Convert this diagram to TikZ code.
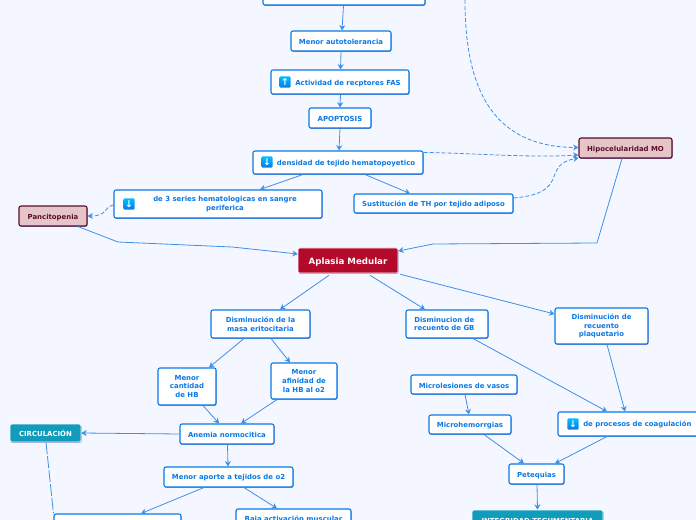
\documentclass[tikz,border=0pt]{standalone}
\usepackage{fontspec}
\setmainfont{DejaVu Sans}
\usetikzlibrary{arrows.meta,shadows}
\definecolor{bgc}{HTML}{F4F7FF}
\definecolor{blu}{HTML}{0A78E6}
\definecolor{lnk}{HTML}{3E8FEA}
\definecolor{darkr}{HTML}{5A0F22}
\definecolor{pinkf}{HTML}{E6C5CA}
\definecolor{redf}{HTML}{B30A2B}
\definecolor{teal}{HTML}{129CBC}
\def\p{0.75pt}
\tikzset{
 conn/.style={draw=lnk,line width=0.6pt,-{Stealth[length=4pt,width=4.5pt]}},
 dconn/.style={conn,dash pattern=on 3pt off 1.5pt},
 base/.style={rectangle,rounded corners=1.5pt,align=center,inner sep=0pt,font=\bfseries\fontsize{5.2}{6.5}\selectfont,execute at begin node={\rule{0pt}{5.6pt}},drop shadow={shadow xshift=0.4pt,shadow yshift=-0.7pt,opacity=.45,fill=blue!60!black}},
 wbox/.style={base,draw=blu,line width=0.8pt,fill=white,text=blu},
 pbox/.style={base,draw=darkr,line width=0.8pt,fill=pinkf,text=darkr},
 rbox/.style={base,draw=white,line width=0.4pt,fill=redf,text=white,font=\bfseries\fontsize{6.5}{8}\selectfont,execute at begin node={\rule{0pt}{7pt}}},
 tbox/.style={base,draw=white,line width=0.5pt,fill=teal,text=white},
 icn/.style={rectangle,rounded corners=1pt,top color=cyan!75!blue,bottom color=blu,text=white,inner sep=0pt,minimum width=8.6pt,minimum height=8.6pt,font=\bfseries\fontsize{7}{7}\selectfont},
 ptext/.style={text=blu,font=\bfseries\fontsize{5.2}{6.5}\selectfont,anchor=west,inner sep=0pt},
}
\newcommand{\bx}[7]{\node[#1,minimum width=#4*0.75pt-#2*0.75pt,minimum height=#5*0.75pt-#3*0.75pt] (#6) at ({(#2+#4)/2},{(#3+#5)/2}) {#7};}
\begin{document}
\begin{tikzpicture}[x=0.75pt,y=-0.75pt]
\useasboundingbox (0,0) rectangle (696,520);
\clip (0,0) rectangle (696,520);
\fill[bgc] (0,0) rectangle (696,520);
\bx{wbox}{263}{-30}{425}{5}{top}{}
\bx{wbox}{291}{31}{391}{51}{auto}{Menor autotolerancia}
\bx{wbox}{271}{70}{409}{94}{fas}{\hspace*{12pt}Actividad de recptores FAS}
\bx{wbox}{309}{108}{371}{128}{apo}{APOPTOSIS}
\bx{wbox}{253}{151}{423}{174}{dens}{\hspace*{12pt}densidad de tejido hematopoyetico}
\bx{wbox}{114}{190}{322}{218}{series}{\hspace*{10.5pt}de 3 series hematologicas en sangre\\\hspace*{10.5pt}periferica}
\bx{wbox}{354}{194}{513}{213}{sust}{Sustitución de TH por tejido adiposo}
\bx{pbox}{579}{138}{672}{158}{hipo}{Hipocelularidad MO}
\bx{pbox}{19}{206}{87}{226}{panc}{Pancitopenia}
\bx{rbox}{298}{248}{398}{273}{apl}{Aplasia Medular}
\bx{wbox}{211}{310}{310}{338}{masa}{Disminución de la\\masa eritocitaria}
\bx{wbox}{158}{368}{216}{405}{cant}{Menor\\cantidad\\de HB}
\bx{wbox}{271}{363}{337}{399}{afin}{Menor\\afinidad de\\la HB al o2}
\bx{wbox}{180}{424}{274}{444}{anem}{Anemia normocitica}
\bx{tbox}{10}{424}{81}{442}{circ}{CIRCULACIÓN}
\bx{wbox}{164}{467}{293}{487}{aporte}{Menor aporte a tejidos de o2}
\bx{wbox}{54}{514}{181}{560}{blbox}{}
\bx{wbox}{236}{509}{351}{528}{baja}{Baja activación muscular}
\bx{wbox}{406}{310}{488}{338}{gb}{Disminucion de\hspace*{4pt}\\recuento de GB\hspace*{4pt}}
\bx{wbox}{555}{308}{648}{344}{plaq}{Disminución de\\recuento\\plaquetario}
\bx{wbox}{411}{375}{517}{394}{lesi}{Microlesiones de vasos}
\bx{wbox}{429}{415}{511}{434}{hemo}{Microhemorrgias}
\bx{wbox}{558}{412}{710}{436}{coag}{}
\node[ptext] (coagt) at (583,424.5) {de procesos de coagulación};
\bx{wbox}{509}{464}{564}{484}{pete}{Petequias}
\bx{tbox}{472}{510}{603}{529}{integ}{INTEGRIDAD TEGUMENTARIA}
% icons
\node[icn] (ic1) at (285,82) {↑};
\node[icn] (ic2) at (267,162) {↓};
\node[icn] (ic3) at (129,204) {↓};
\node[icn] (ic4) at (573,424) {↓};
% connectors
\draw[conn] ([xshift=-0.5*\p]top.south) -- ([xshift=1*\p]auto.north);
\draw[conn] (auto.south) -- ([xshift=0.5*\p]fas.north);
\draw[conn] ([xshift=0.5*\p]fas.south) -- (apo.north);
\draw[conn] (apo.south) -- ([xshift=1*\p]dens.north);
\draw[conn] ([xshift=-35*\p]dens.south) -- ([xshift=42*\p]series.north);
\draw[conn] ([xshift=27*\p]dens.south) -- ([xshift=-23.5*\p]sust.north);
\draw[dconn] ([yshift=-1*\p]series.west) .. controls +(-10*\p,-2*\p) and (108,216) .. (panc.east);
\draw[dconn] ([yshift=-2*\p]dens.north east) .. controls (470,153) and (530,158) .. ([yshift=-7*\p]hipo.west);
\draw[dconn] ([yshift=5.5*\p]sust.east) .. controls (572,193) and (540,165) .. ([yshift=-10*\p]hipo.west);
\coordinate (dtop) at (465,0);
\draw[dconn] (dtop) .. controls (465,85) and (490,147) .. ([yshift=0.5*\p]hipo.west);
\coordinate (w1) at (597,243);
\coordinate (w2) at (433,244);
\draw[conn] ([xshift=-3.5*\p]hipo.south) -- (w1) -- (w2) -- ([yshift=9.5*\p]apl.east);
\coordinate (w3) at (118,242);
\coordinate (w4) at (232,247);
\draw[conn] ([xshift=25*\p]panc.south) -- (w3) -- (w4) -- ([yshift=6.5*\p]apl.west);
\draw[conn] ([xshift=-19*\p,yshift=-2*\p]apl.south) -- ([xshift=19.5*\p]masa.north);
\draw[conn] ([xshift=22*\p,yshift=-2*\p]apl.south) -- ([xshift=-22*\p]gb.north);
\draw[conn] ([xshift=2*\p,yshift=-1*\p]apl.south east) -- ([yshift=12*\p]plaq.west);
\draw[conn] ([xshift=-16.5*\p]masa.south) -- ([xshift=22*\p]cant.north);
\draw[conn] ([xshift=10.5*\p]masa.south) -- ([xshift=-14*\p]afin.north);
\draw[conn] ([xshift=16*\p]cant.south) -- ([xshift=-8*\p]anem.north);
\draw[conn] ([xshift=-27*\p]afin.south) -- ([xshift=14*\p]anem.north);
\draw[conn] (anem.west) -- (circ.east);
\draw[conn] ([xshift=0.5*\p]anem.south) -- ([xshift=-0.5*\p]aporte.north);
\draw[conn] ([xshift=-24.5*\p]aporte.south) -- ([xshift=23.5*\p]blbox.north);
\draw[conn] ([xshift=15.5*\p]aporte.south) -- ([xshift=-16.5*\p]baja.north);
\draw[draw=lnk,line width=0.6pt,dash pattern=on 9pt off 1.5pt] ([xshift=0.5*\p]circ.south) -- (blbox.north west);
\draw[conn] ([xshift=26*\p]gb.south) -- ([xshift=-27*\p]coag.north);
\draw[conn] ([xshift=5.5*\p]plaq.south) -- ([xshift=-9*\p]coag.north);
\draw[conn] ([xshift=1*\p]lesi.south) -- ([xshift=-1*\p]hemo.north);
\draw[conn] ([xshift=14*\p]hemo.south) -- ([xshift=-12.5*\p]pete.north);
\draw[conn] ([xshift=-27*\p]coag.south) -- ([xshift=18.5*\p]pete.north);
\draw[conn] ([xshift=0.5*\p]pete.south) -- (integ.north);
\end{tikzpicture}
\end{document}
